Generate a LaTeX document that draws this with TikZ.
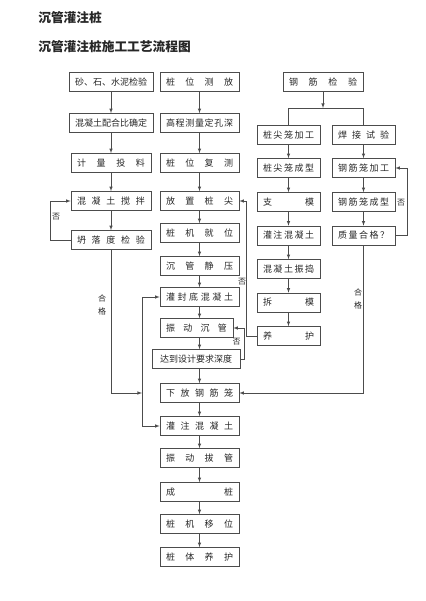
\documentclass[tikz,border=0pt]{standalone}
\usepackage{fontspec}
\setmainfont{Noto Sans CJK SC}
\usetikzlibrary{arrows}

\newcommand{\spr}[1]{\noindent\makebox[\hsize][s]{\spaceskip=0pt plus 1fil\xspaceskip=0pt plus 1fil\relax #1}}

\begin{document}
\begin{tikzpicture}[x=1pt, y=-1pt, color=black!70, text=black!85, line width=0.6pt, >=latex,
	box/.style={draw, line width=0.7pt, text width=#1, inner xsep=6pt, inner ysep=0pt, minimum height=19pt, align=center, font=\fontsize{9}{10}\selectfont},
	box/.default=67pt,
	lbl/.style={inner sep=0pt, align=center, font=\fontsize{8}{13}\selectfont},
	title/.style={anchor=west, inner sep=0pt, font=\fontsize{12.7}{14}\selectfont\bfseries}]
	\def \colleft {111}
\def \colmid {199.5}
\def \colcage {288.5}
\def \colsteel {363.5}

\useasboundingbox (0,0) rectangle (425,601);

%Titles
\node[title] (head) at (38,18) {沉管灌注桩};
\node[title] (subhead) at (38,47) {沉管灌注桩施工工艺流程图};

%Concrete
\node[box=72pt] (sand) at (\colleft,82) {砂、石、水泥检验};
\node[box=72pt] (ratio) at (\colleft,123) {混凝土配合比确定};
\node[box=68pt] (meter) at (\colleft,163) {\spr{计 量 投 料}};
\node[box=68pt] (mix) at (\colleft,201) {\spr{混 凝 土 搅 拌}};
\node[box=68pt] (slump) at (\colleft,240) {\spr{坍 落 度 检 验}};
\draw[->] (sand) -- (ratio);
\draw[->] (ratio) -- (meter);
\draw[->] (meter) -- (mix);
\draw[->] (mix) -- (slump);
\draw[->] (slump.west) -- ++(-20,0) |- (mix.west);
\node[lbl] (noleft) at (56,217) {否};

%Pile line
\node[box] (stake) at (\colmid,82) {\spr{桩 位 测 放}};
\node[box] (level) at (\colmid,123) {\spr{高 程 测 量 定 孔 深}};
\node[box] (recheck) at (\colmid,163) {\spr{桩 位 复 测}};
\node[box] (tip) at (\colmid,201) {\spr{放 置 桩 尖}};
\node[box] (rig) at (\colmid,233) {\spr{桩 机 就 位}};
\node[box] (press) at (\colmid,266) {\spr{沉 管 静 压}};
\node[box] (seal) at (\colmid,297) {\spr{灌 封 底 混 凝 土}};
\node[box=61pt] (sink) at (196.5,328) {\spr{振 动 沉 管}};
\node[box=76pt] (depth) at (196,359) {达到设计要求深度};
\node[box] (cage) at (\colmid,393) {\spr{下 放 钢 筋 笼}};
\node[box] (pour) at (\colmid,426) {\spr{灌 注 混 凝 土}};
\node[box] (pull) at (\colmid,458) {\spr{振 动 拔 管}};
\node[box] (pile) at (\colmid,492) {\spr{成 桩}};
\node[box] (move) at (\colmid,524) {\spr{桩 机 移 位}};
\node[box] (cure) at (\colmid,557) {\spr{桩 体 养 护}};
\draw[->] (stake) -- (level);
\draw[->] (level) -- (recheck);
\draw[->] (recheck) -- (tip);
\draw[->] (tip) -- (rig);
\draw[->] (rig) -- (press);
\draw[->] (press) -- (seal);
\draw[->] (seal) -- (seal |- sink.north);
\draw[->] (seal |- sink.south) -- (seal |- depth.north);
\draw[->] (seal |- depth.south) -- (cage);
\draw[->] (cage) -- (pour);
\draw[->] (pour) -- (pull);
\draw[->] (pull) -- (pile);
\draw[->] (pile) -- (move);
\draw[->] (move) -- (cure);
\draw[->] (depth.east) -- ++(4,0) |- (sink.east);
\node[lbl] (nodepth) at (236.5,342) {否};

%Concrete feed
\coordinate (split) at (142,393);
\draw[->] (slump) |- (split);
\draw[->] (split) |- (seal.west);
\draw[->] (split) |- (pour.west);
\node[lbl] (okleft) at (102,304.5) {合\\格};

%Steel
\node[box=68pt] (steel) at (323,82) {\spr{钢 筋 检 验}};
\coordinate (fork) at (323,108);
\draw[->] (steel) -- (fork);

%Pile tip cage
\node[box=51pt] (tcage) at (\colcage,135) {\spr{桩 尖 笼 加 工}};
\node[box=51pt] (tform) at (\colcage,168) {\spr{桩 尖 笼 成 型}};
\node[box=51pt] (mold) at (\colcage,202) {\spr{支 模}};
\node[box=51pt] (tpour) at (\colcage,235.5) {\spr{灌 注 混 凝 土}};
\node[box=51pt] (tvib) at (\colcage,269) {\spr{混 凝 土 振 捣}};
\node[box=51pt] (strip) at (\colcage,302.5) {\spr{拆 模}};
\node[box=51pt] (tcure) at (\colcage,336) {\spr{养 护}};
\draw (tcage) |- (fork);
\draw[->] (tcage) -- (tform);
\draw[->] (tform) -- (mold);
\draw[->] (mold) -- (tpour);
\draw[->] (tpour) -- (tvib);
\draw[->] (tvib) -- (strip);
\draw[->] (strip) -- (tcure);
\draw[->] (tcure.west) -- ++(-10,0) |- (tip.east);
\node[lbl] (nomid) at (242,282) {否};

%Reinforcement cage
\node[box=51pt] (weld) at (\colsteel,135) {\spr{焊 接 试 验}};
\node[box=51pt] (rcage) at (\colsteel,168) {\spr{钢 筋 笼 加 工}};
\node[box=51pt] (rform) at (\colsteel,202) {\spr{钢 筋 笼 成 型}};
\node[box=51pt] (qual) at (\colsteel,235.5) {\spr{质 量 合 格 ？}};
\draw (weld) |- (fork);
\draw[->] (weld) -- (rcage);
\draw[->] (rcage) -- (rform);
\draw[->] (rform) -- (qual);
\draw[->] (qual.east) -- ++(12,0) |- (rcage.east);
\node[lbl] (noright) at (401,203) {否};
\draw[->] (qual) |- (cage);
\node[lbl] (okright) at (358,298.5) {合\\格};

	\end{tikzpicture}
\end{document}
